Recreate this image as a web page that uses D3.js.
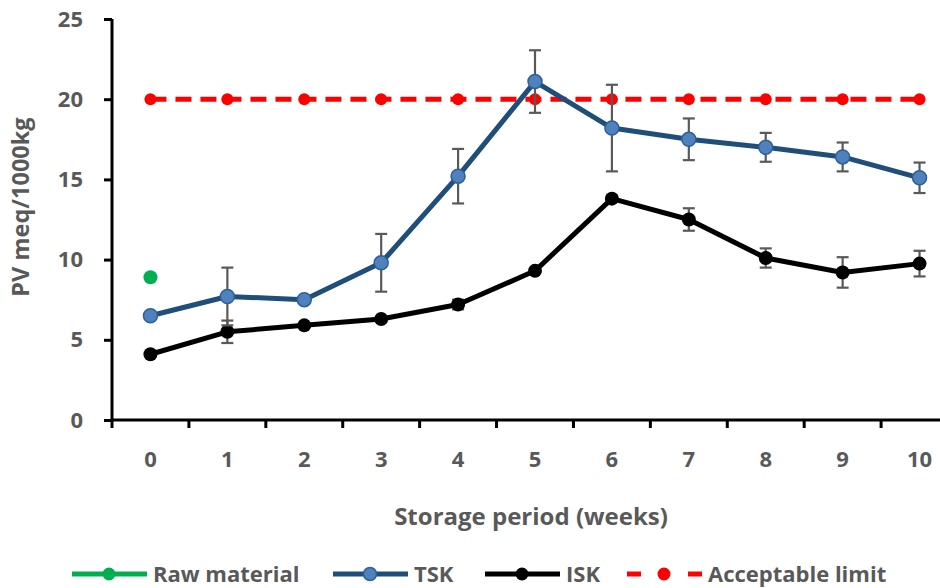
<!DOCTYPE html>
<html>
<head>
<meta charset="utf-8">
<script src="https://cdn.jsdelivr.net/npm/d3@7"></script>
<style>
  html, body { margin: 0; padding: 0; background: #fff; }
  svg { display: block; }
  text { font-family: "Open Sans", Lato, sans-serif; font-weight: bold; fill: #595959; }
</style>
</head>
<body>
<svg id="chart" width="940" height="588"></svg>
<script>
// Storage weeks
const weeks = [0, 1, 2, 3, 4, 5, 6, 7, 8, 9, 10];
// Peroxide value (meq/1000kg) per series
const tskValues = [6.5, 7.7, 7.5, 9.8, 15.2, 21.1, 18.2, 17.5, 17.0, 16.4, 15.1];
const tskErrors = [0, 1.8, 0, 1.8, 1.7, 1.95, 2.7, 1.3, 0.9, 0.9, 0.95];
const iskValues = [4.1, 5.5, 5.9, 6.3, 7.2, 9.3, 13.8, 12.5, 10.1, 9.2, 9.75];
const iskErrors = [0, 0.7, 0, 0, 0.3, 0, 0.2, 0.7, 0.6, 0.95, 0.8];
const rawWeeks = [0];
const rawValues = [8.9];
const limitValues = [20, 20, 20, 20, 20, 20, 20, 20, 20, 20, 20];
const yTicks = [0, 5, 10, 15, 20, 25];

const svg = d3.select("#chart");
const FONT = "'Open Sans', Lato, sans-serif";

const x = d3.scaleBand().domain(weeks).range([112, 958]);
const xc = d => x(d) + x.bandwidth() / 2;
const y = d3.scaleLinear().domain([0, 25]).range([420, 19]);

// Y axis
const yAxis = svg.append("g").attr("transform", "translate(112,0)")
  .call(d3.axisLeft(y).tickValues(yTicks).tickSize(8).tickPadding(21));
yAxis.select(".domain").attr("stroke", "#000").attr("stroke-width", 3)
  .attr("d", `M0,${y(25)}V${y(0)}`);
yAxis.selectAll(".tick line").attr("stroke", "#000").attr("stroke-width", 3);
yAxis.selectAll(".tick text").style("font-size", "22px").attr("fill", "#595959")
  .style("font-family", FONT).style("font-weight", "bold");

// X axis: labels centred in each band, ticks on band boundaries
const xAxis = svg.append("g").attr("transform", `translate(0,${y(0)})`)
  .call(d3.axisBottom(x).tickSize(0).tickPadding(31));
xAxis.select(".domain").remove();
xAxis.selectAll(".tick text").style("font-size", "22px").attr("fill", "#595959")
  .style("font-family", FONT).style("font-weight", "bold");
svg.append("line").attr("x1", 112).attr("x2", 940).attr("y1", y(0)).attr("y2", y(0))
  .attr("stroke", "#000").attr("stroke-width", 3);
svg.append("g").selectAll("line").data(weeks).join("line")
  .attr("x1", d => x(d)).attr("x2", d => x(d))
  .attr("y1", y(0)).attr("y2", y(0) + 8)
  .attr("stroke", "#000").attr("stroke-width", 3);

// Axis titles
svg.append("text").attr("transform", "translate(29,207) rotate(-90)")
  .attr("text-anchor", "middle").style("font-size", "23.5px").text("PV meq/1000kg");
svg.append("text").attr("x", 531).attr("y", 525)
  .attr("text-anchor", "middle").style("font-size", "24px").text("Storage period (weeks)");

const line = d3.line().x((d, i) => xc(weeks[i])).y(d => y(d));

// Acceptable limit
svg.append("path").datum(limitValues).attr("d", line)
  .attr("fill", "none").attr("stroke", "#FF0000").attr("stroke-width", 5)
  .attr("stroke-dasharray", "16,9");
svg.append("g").selectAll("circle").data(limitValues).join("circle")
  .attr("cx", (d, i) => xc(weeks[i])).attr("cy", d => y(d)).attr("r", 6)
  .attr("fill", "#FF0000");

// Error bars
function errorBars(vals, errs) {
  const g = svg.append("g").attr("stroke", "#595959").attr("stroke-width", 2.2);
  vals.forEach((v, i) => {
    const e = errs[i];
    if (!e) return;
    const cx = xc(weeks[i]);
    g.append("line").attr("x1", cx).attr("x2", cx).attr("y1", y(v + e)).attr("y2", y(v - e));
    g.append("line").attr("x1", cx - 6).attr("x2", cx + 6).attr("y1", y(v + e)).attr("y2", y(v + e));
    g.append("line").attr("x1", cx - 6).attr("x2", cx + 6).attr("y1", y(v - e)).attr("y2", y(v - e));
  });
}

// ISK
errorBars(iskValues, iskErrors);
svg.append("path").datum(iskValues).attr("d", line)
  .attr("fill", "none").attr("stroke", "#000").attr("stroke-width", 5).attr("stroke-linejoin", "round");
svg.append("g").selectAll("circle").data(iskValues).join("circle")
  .attr("cx", (d, i) => xc(weeks[i])).attr("cy", d => y(d)).attr("r", 7)
  .attr("fill", "#000");

// TSK
errorBars(tskValues, tskErrors);
svg.append("path").datum(tskValues).attr("d", line)
  .attr("fill", "none").attr("stroke", "#1F4E79").attr("stroke-width", 5).attr("stroke-linejoin", "round");
svg.append("g").selectAll("circle").data(tskValues).join("circle")
  .attr("cx", (d, i) => xc(weeks[i])).attr("cy", d => y(d)).attr("r", 7)
  .attr("fill", "#4F81BD").attr("stroke", "#2F5F9A").attr("stroke-width", 1.5);

// Raw material
svg.append("g").selectAll("circle").data(rawValues).join("circle")
  .attr("cx", (d, i) => xc(rawWeeks[i])).attr("cy", d => y(d)).attr("r", 7)
  .attr("fill", "#00B050");

// Legend
const legend = [
  { name: "Raw material", x: 72, color: "#00B050", marker: "#00B050", dash: null, stroke: null },
  { name: "TSK", x: 333, color: "#1F4E79", marker: "#4F81BD", dash: null, stroke: "#2F5F9A" },
  { name: "ISK", x: 485, color: "#000", marker: "#000", dash: null, stroke: null },
  { name: "Acceptable limit", x: 627, color: "#FF0000", marker: "#FF0000", dash: "14,47", stroke: null }
];
const ly = 574;
const lg = svg.append("g");
legend.forEach(l => {
  lg.append("line").attr("x1", l.x).attr("x2", l.x + 75).attr("y1", ly).attr("y2", ly)
    .attr("stroke", l.color).attr("stroke-width", 5)
    .attr("stroke-dasharray", l.dash);
  lg.append("circle").attr("cx", l.x + 37).attr("cy", ly).attr("r", 6.5)
    .attr("fill", l.marker).attr("stroke", l.stroke).attr("stroke-width", l.stroke ? 1.5 : 0);
  lg.append("text").attr("x", l.x + 81).attr("y", ly + 8).style("font-size", "22px").text(l.name);
});
</script>
</body>
</html>
